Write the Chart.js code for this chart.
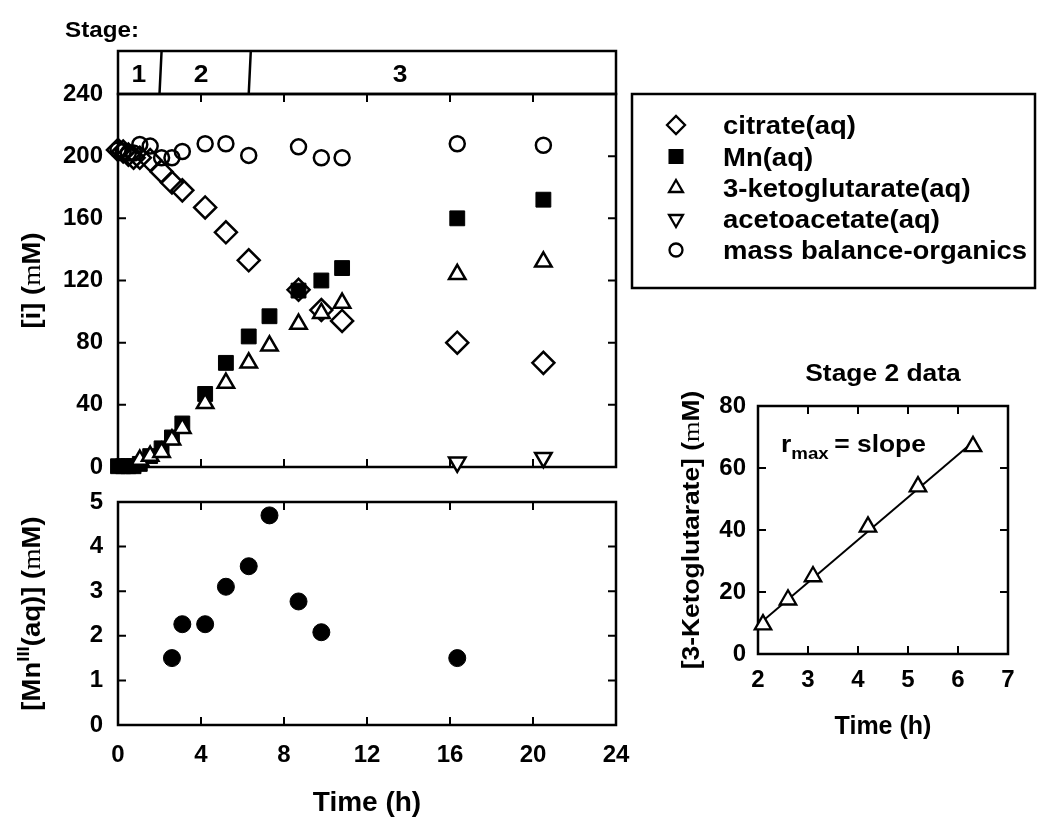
<!DOCTYPE html>
<html><head><meta charset="utf-8">
<script src="https://cdn.jsdelivr.net/npm/chart.js@4.4.0/dist/chart.umd.min.js"></script>
<style>
html,body{margin:0;padding:0;background:#fff;width:1037px;height:824px;overflow:hidden}
canvas{position:absolute;left:0;top:0}
</style></head><body>
<canvas id="cMain" width="1037" height="824"></canvas>
<canvas id="cLow" width="1037" height="824"></canvas>
<canvas id="cIns" width="1037" height="824"></canvas>
<script>
// ---------- data ----------
const timeH      = [0, 0.25, 0.5, 0.75, 1.05, 1.55, 2.1, 2.6, 3.1, 4.2, 5.2, 6.3, 7.3, 8.7, 9.8, 10.8, 16.35, 20.5];
const citrate    = [204, 203, 201, 199, 199, 197.5, 190, 183, 178, 167, 151, 133, null, 114, 101, 94, 80, 67];
const mnAq       = [0.5, 0.5, 0.5, 0.5, 2, 7, 12, 19, 28, 47, 67, 84, 97, 113.5, 120, 128, 160, 172];
const ketoglut   = [null, null, null, null, 4.5, 7, 9.5, 17.5, 25, 41, 54, 67, 78, 92, 99, 105.5, 124, 132];
const acetoacet  = [null, null, null, null, null, null, null, null, null, null, null, null, null, null, null, null, 3, 6];
const massBal    = [204, 203, 202, 202, 207.5, 206.5, 199, 199, 203, 208, 208, 200.5, null, 206, 199, 199, 208, 207];

const mn3Time    = [2.6, 3.1, 4.2, 5.2, 6.3, 7.3, 8.7, 9.8, 16.35];
const mn3Val     = [1.5, 2.26, 2.26, 3.1, 3.56, 4.7, 2.77, 2.08, 1.5];

const stageEdges   = [2.05, 6.35];
const stageLabels  = ['1', '2', '3'];
const stageLabelAt = [1.0, 4.0, 13.6];
const stage2Range  = [2, 6.5];

const xTicksMain  = [0, 4, 8, 12, 16, 20, 24];
const yTicksMain  = [0, 40, 80, 120, 160, 200, 240];
const yTicksLow   = [0, 1, 2, 3, 4, 5];
const xTicksIns   = [2, 3, 4, 5, 6, 7];
const yTicksIns   = [0, 20, 40, 60, 80];

// ---------- helpers ----------
const FAM = "'Liberation Sans', Arial, sans-serif";
const SX = 1.1; // horizontal stretch of the original lettering
Chart.defaults.font.family = FAM;
Chart.defaults.font.weight = 'bold';
Chart.defaults.color = '#000';
Chart.defaults.animation = false;
Chart.defaults.plugins.legend.display = false;
Chart.defaults.plugins.tooltip.enabled = false;

const pts = (xs, ys) => xs.map((x, i) => ({x, y: ys[i]})).filter(p => p.y !== null && p.y !== undefined);

function drawRich(ctx, segs, cx, cy, rot, align) {
  ctx.save(); ctx.translate(cx, cy); ctx.rotate(rot || 0); ctx.scale(SX, 1);
  let total = 0;
  segs.forEach(s => { ctx.font = s.font; s.w = ctx.measureText(s.text).width + (s.gap || 0); total += s.w; });
  let x = align === 'left' ? 0 : -total / 2;
  ctx.fillStyle = '#000'; ctx.textBaseline = 'alphabetic'; ctx.textAlign = 'left';
  segs.forEach(s => { ctx.font = s.font; ctx.fillText(s.text, x, s.dy || 0); x += s.w; });
  ctx.restore();
}

const frame = {
  id: 'frame',
  beforeDatasetsDraw(chart) {
    const {ctx, chartArea: a, scales: {x, y}} = chart;
    const L = 8;
    ctx.save();
    ctx.strokeStyle = '#000';
    ctx.lineWidth = 2;
    ctx.beginPath();
    x.ticks.forEach(t => {
      const px = x.getPixelForValue(t.value);
      if (px <= a.left + 1 || px >= a.right - 1) return;
      ctx.moveTo(px, a.bottom); ctx.lineTo(px, a.bottom - L);
      ctx.moveTo(px, a.top); ctx.lineTo(px, a.top + L);
    });
    y.ticks.forEach(t => {
      const py = y.getPixelForValue(t.value);
      if (py <= a.top + 1 || py >= a.bottom - 1) return;
      ctx.moveTo(a.left, py); ctx.lineTo(a.left + L, py);
      ctx.moveTo(a.right, py); ctx.lineTo(a.right - L, py);
    });
    ctx.stroke();
    ctx.lineWidth = 2.5;
    ctx.strokeRect(a.left, a.top, a.right - a.left, a.bottom - a.top);
    ctx.restore();
  }
};

function fixedTicks(values) {
  return function (scale) { scale.ticks = values.map(v => ({value: v})); };
}

const tickFont = {size: 24, weight: 'bold', family: FAM};
const B = (px) => `bold ${px}px ${FAM}`;
const SERIF = (px) => `${px}px 'Liberation Serif', serif`;

// ---------- main chart ----------
const mainDatasets = [
  {label: 'citrate(aq)', data: pts(timeH, citrate), pointStyle: 'rectRot', pointRadius: 11,
   backgroundColor: 'rgba(255,255,255,0)', borderColor: '#000', pointBorderWidth: 2.5, order: 4, clip: false, legR: 9},
  {label: 'Mn(aq)', data: pts(timeH, mnAq), pointStyle: 'rect', pointRadius: 10.5,
   backgroundColor: '#000', borderColor: '#000', pointBorderWidth: 1, order: 3, clip: false, legR: 9},
  {label: '3-ketoglutarate(aq)', data: pts(timeH, ketoglut), pointStyle: 'triangle', pointRadius: 9.5,
   backgroundColor: '#fff', borderColor: '#000', pointBorderWidth: 2.5, order: 2, clip: false, legR: 8},
  {label: 'acetoacetate(aq)', data: pts(timeH, acetoacet), pointStyle: 'triangle', rotation: 180, pointRadius: 9.5,
   backgroundColor: '#fff', borderColor: '#000', pointBorderWidth: 2.5, order: 1, clip: false, legR: 8},
  {label: 'mass balance-organics', data: pts(timeH, massBal), pointStyle: 'circle', pointRadius: 7.5,
   backgroundColor: 'rgba(255,255,255,0)', borderColor: '#000', pointBorderWidth: 2.5, order: 5, clip: false, legR: 6.5}
];

const mainDecor = {
  id: 'mainDecor',
  afterDraw(chart) {
    const {ctx, chartArea: a, scales: {x}} = chart;
    ctx.save();
    ctx.strokeStyle = '#000'; ctx.fillStyle = '#000';
    // stage bar
    const top = 51, bot = a.top;
    ctx.lineWidth = 2.5;
    ctx.strokeRect(a.left, top, a.right - a.left, bot - top);
    ctx.beginPath();
    stageEdges.forEach(t => {
      ctx.moveTo(x.getPixelForValue(t + 0.05), top);
      ctx.lineTo(x.getPixelForValue(t - 0.05), bot);
    });
    ctx.stroke();
    stageLabels.forEach((s, i) => drawRich(ctx, [{text: s, font: B(24)}], x.getPixelForValue(stageLabelAt[i]), (top + bot) / 2 + 9, 0));
    drawRich(ctx, [{text: 'Stage:', font: B(22)}], 65, 37, 0, 'left');
    // legend
    ctx.lineWidth = 2.5;
    ctx.strokeRect(632, 94, 1035 - 632, 288 - 94);
    const rows = [125, 156.5, 188, 219, 250];
    chart.data.datasets.forEach((d, i) => {
      ctx.save();
      ctx.fillStyle = d.backgroundColor; ctx.strokeStyle = d.borderColor; ctx.lineWidth = 2.3;
      Chart.helpers.drawPoint(ctx, {pointStyle: d.pointStyle, rotation: d.rotation || 0, radius: d.legR, borderWidth: 2.3}, 676, rows[i]);
      ctx.restore();
      drawRich(ctx, [{text: d.label, font: B(25)}], 723, rows[i] + 9, 0, 'left');
    });
    // y title
    drawRich(ctx, [
      {text: '[i] (', font: B(25)},
      {text: 'm', font: SERIF(25)},
      {text: 'M)', font: B(25)}
    ], 40, (a.top + a.bottom) / 2, -Math.PI / 2);
    ctx.restore();
  }
};

new Chart(document.getElementById('cMain'), {
  type: 'scatter',
  data: {datasets: mainDatasets},
  options: {
    responsive: false, devicePixelRatio: 1,
    layout: {padding: {left: 0, top: 94, right: 421, bottom: 357}},
    scales: {
      x: {type: 'linear', min: 0, max: 24, afterBuildTicks: fixedTicks(xTicksMain),
          ticks: {display: false}, grid: {display: false, drawTicks: false}, border: {display: false},
          afterFit(s) { s.height = 0; }},
      y: {type: 'linear', min: 0, max: 240, afterBuildTicks: fixedTicks(yTicksMain),
          ticks: {font: tickFont, padding: 15}, grid: {display: false, drawTicks: false}, border: {display: false},
          afterFit(s) { s.width = 118; }}
    }
  },
  plugins: [frame, mainDecor]
});

// ---------- lower chart ----------
const lowDecor = {
  id: 'lowDecor',
  afterDraw(chart) {
    const {ctx, chartArea: a} = chart;
    drawRich(ctx, [
      {text: '[Mn', font: B(25)},
      {text: 'III', font: B(17), dy: -11},
      {text: '(aq)] (', font: B(25)},
      {text: 'm', font: SERIF(25)},
      {text: 'M)', font: B(25)}
    ], 40, (a.top + a.bottom) / 2, -Math.PI / 2);
  }
};

new Chart(document.getElementById('cLow'), {
  type: 'scatter',
  data: {datasets: [{label: 'MnIII(aq)', data: pts(mn3Time, mn3Val), pointStyle: 'circle', pointRadius: 8.5,
    backgroundColor: '#000', borderColor: '#000', pointBorderWidth: 1, clip: false}]},
  options: {
    responsive: false, devicePixelRatio: 1,
    layout: {padding: {left: 0, top: 502, right: 421, bottom: 0}},
    scales: {
      x: {type: 'linear', min: 0, max: 24, afterBuildTicks: fixedTicks(xTicksMain),
          ticks: {font: tickFont, padding: 16, maxRotation: 0, autoSkip: false},
          grid: {display: false, drawTicks: false}, border: {display: false},
          title: {display: true, text: 'Time (h)', font: {size: 28, weight: 'bold', family: FAM}, padding: {top: 0, bottom: 4}},
          afterFit(s) { s.height = 99; }},
      y: {type: 'linear', min: 0, max: 5, afterBuildTicks: fixedTicks(yTicksLow),
          ticks: {font: tickFont, padding: 15}, grid: {display: false, drawTicks: false}, border: {display: false},
          afterFit(s) { s.width = 118; }}
    }
  },
  plugins: [frame, lowDecor]
});

// ---------- inset chart ----------
const s2t = [], s2v = [];
timeH.forEach((t, i) => { if (t >= stage2Range[0] && t <= stage2Range[1] && ketoglut[i] !== null) { s2t.push(t); s2v.push(ketoglut[i]); } });
const n = s2t.length;
const mt = s2t.reduce((a, b) => a + b, 0) / n, mv = s2v.reduce((a, b) => a + b, 0) / n;
let sxy = 0, sxx = 0;
s2t.forEach((t, i) => { sxy += (t - mt) * (s2v[i] - mv); sxx += (t - mt) * (t - mt); });
const slope = sxy / sxx, icpt = mv - slope * mt;
const fitT = [xTicksIns[0], Math.max(...s2t)];
const fitV = fitT.map(t => icpt + slope * t);

const insDecor = {
  id: 'insDecor',
  afterDraw(chart) {
    const {ctx, chartArea: a} = chart;
    drawRich(ctx, [{text: 'Stage 2 data', font: B(24)}], (a.left + a.right) / 2, a.top - 25, 0);
    drawRich(ctx, [
      {text: 'r', font: B(24)},
      {text: 'max', font: B(17), dy: 7, gap: 5},
      {text: '= slope', font: B(24)}
    ], a.left + 23, a.top + 46, 0, 'left');
    drawRich(ctx, [
      {text: '[3-Ketoglutarate] (', font: B(24)},
      {text: 'm', font: SERIF(24)},
      {text: 'M)', font: B(24)}
    ], 699, (a.top + a.bottom) / 2, -Math.PI / 2);
  }
};

new Chart(document.getElementById('cIns'), {
  type: 'scatter',
  data: {datasets: [
    {label: 'Stage 2', data: pts(s2t, s2v), pointStyle: 'triangle', pointRadius: 9.5,
     backgroundColor: '#fff', borderColor: '#000', pointBorderWidth: 2.3, order: 1, clip: false},
    {label: 'fit', data: pts(fitT, fitV), showLine: true, pointRadius: 0, borderColor: '#000', borderWidth: 2, order: 2}
  ]},
  options: {
    responsive: false, devicePixelRatio: 1,
    layout: {padding: {left: 638, top: 406, right: 29, bottom: 70}},
    scales: {
      x: {type: 'linear', min: 2, max: 7, afterBuildTicks: fixedTicks(xTicksIns),
          ticks: {font: tickFont, padding: 12, maxRotation: 0, autoSkip: false},
          grid: {display: false, drawTicks: false}, border: {display: false},
          title: {display: true, text: 'Time (h)', font: {size: 25, weight: 'bold', family: FAM}, padding: {top: 0, bottom: 12}},
          afterFit(s) { s.height = 100; }},
      y: {type: 'linear', min: 0, max: 80, afterBuildTicks: fixedTicks(yTicksIns),
          ticks: {font: tickFont, padding: 12}, grid: {display: false, drawTicks: false}, border: {display: false},
          afterFit(s) { s.width = 120; }}
    }
  },
  plugins: [frame, insDecor]
});
</script>
</body></html>
